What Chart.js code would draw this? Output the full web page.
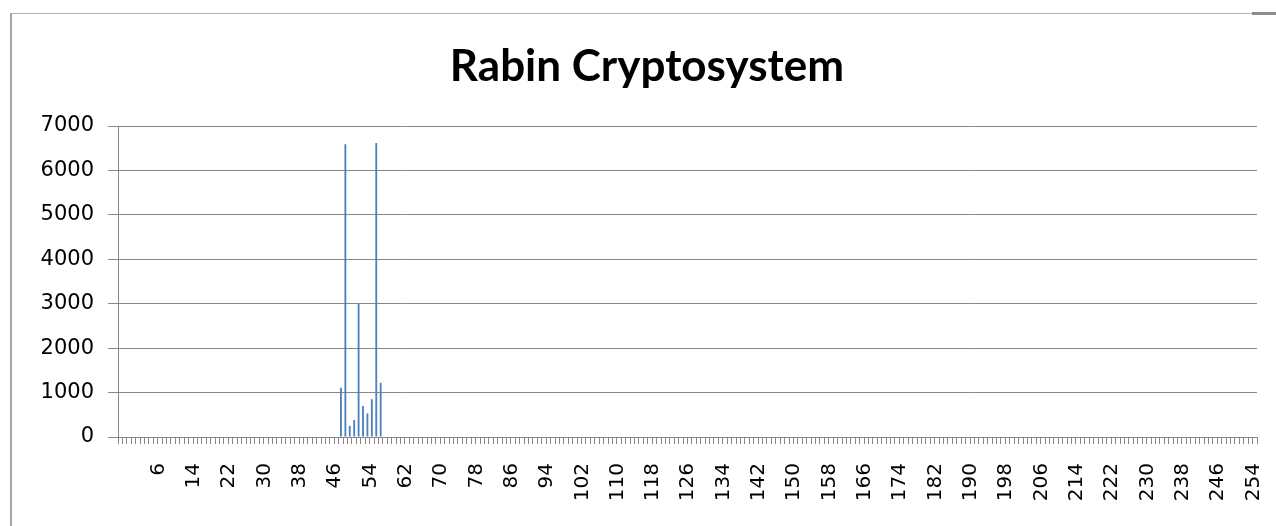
<!DOCTYPE html>
<html>
<head>
<meta charset="utf-8">
<title>Rabin Cryptosystem</title>
<script src="https://cdn.jsdelivr.net/npm/chart.js@4.4.1/dist/chart.umd.min.js"></script>
<style>
  html, body { margin: 0; padding: 0; background: #fff; overflow: hidden; }
  #frame { position: absolute; left: 10px; top: 13px; width: 1250px; height: 520px;
           border-left: 2px solid #a6a6a6; border-top: 1px solid #b0b0b0; }
  #frameEdge { position: absolute; left: 1252px; top: 12px; width: 24px; height: 3px; background: #8c8c8c; }
  #chart { position: absolute; left: 0; top: 0; }
</style>
</head>
<body>
<div id="frame"></div>
<div id="frameEdge"></div>
<canvas id="chart" width="1276" height="526"></canvas>
<script>
// Byte-value categories: two unlabeled slots, then codes 0..255
const leadingCategories = ['', ''];
const byteCategories = Array.from({ length: 256 }, (_, i) => String(i));
const categories = leadingCategories.concat(byteCategories);

// Frequencies of the ASCII digit codes '0'..'9'
const digitCodes = ['48', '49', '50', '51', '52', '53', '54', '55', '56', '57'];
const digitCounts = [1110, 6590, 250, 380, 3000, 700, 530, 850, 6620, 1220];

// Category labels printed under the axis
const tickLabels = ['6', '14', '22', '30', '38', '46', '54', '62', '70', '78', '86', '94',
  '102', '110', '118', '126', '134', '142', '150', '158', '166', '174', '182', '190',
  '198', '206', '214', '222', '230', '238', '246', '254'];

// Value axis ticks
const yTicks = [0, 1000, 2000, 3000, 4000, 5000, 6000, 7000];

const values = categories.map(c => {
  const k = digitCodes.indexOf(c);
  return k >= 0 ? digitCounts[k] : 0;
});

const axisGray = '#878787';

new Chart(document.getElementById('chart').getContext('2d'), {
  type: 'bar',
  data: {
    labels: categories,
    datasets: [{
      data: values,
      backgroundColor: '#4f81bd',
      borderWidth: 0,
      barPercentage: 0.42,
      categoryPercentage: 1
    }]
  },
  options: {
    responsive: false,
    animation: false,
    devicePixelRatio: 1,
    layout: { padding: { left: 37, right: 19, top: 0, bottom: 0 } },
    plugins: {
      legend: { display: false },
      tooltip: { enabled: false },
      title: {
        display: true,
        text: 'Rabin Cryptosystem',
        color: '#000',
        font: { family: 'Lato', size: 44, weight: 'bold', lineHeight: 1.2 },
        padding: { top: 40, bottom: 33.2 }
      }
    },
    scales: {
      x: {
        ticks: {
          autoSkip: false,
          minRotation: 90,
          maxRotation: 90,
          padding: 19,
          labelOffset: 3,
          color: '#000',
          font: { family: 'DejaVu Sans', size: 20 },
          callback: (v, i) => tickLabels.includes(categories[i]) ? categories[i] : ''
        },
        grid: {
          display: true,
          drawOnChartArea: false,
          drawTicks: true,
          tickLength: 7,
          offset: true,
          color: axisGray,
          lineWidth: 1
        },
        border: { display: true, color: axisGray, width: 1 },
        afterFit: s => { s.height = 89; s.paddingLeft = 0; s.paddingRight = 0; }
      },
      y: {
        min: yTicks[0],
        max: yTicks[yTicks.length - 1],
        afterBuildTicks: s => { s.ticks = yTicks.map(v => ({ value: v })); },
        ticks: {
          padding: 14,
          color: '#000',
          font: { family: 'DejaVu Sans', size: 21 },
          callback: v => String(v)
        },
        grid: { color: axisGray, tickLength: 10, lineWidth: 1 },
        border: { color: axisGray, width: 1 },
        afterFit: s => { s.width = 81; }
      }
    }
  }
});
</script>
</body>
</html>
